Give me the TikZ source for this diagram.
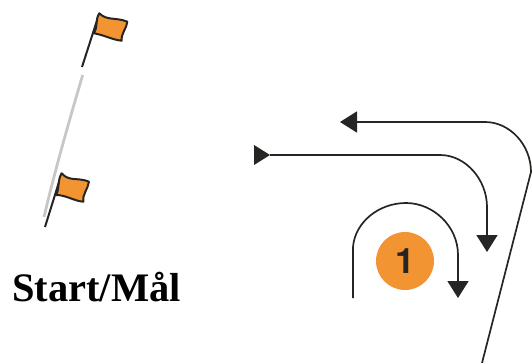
\documentclass[tikz,border=0pt]{standalone}
\usepackage{fontspec}
\setmainfont{Liberation Serif}
\newfontfamily\digitfont{TeX Gyre Heros}
\usetikzlibrary{arrows.meta}
\definecolor{flagorange}{HTML}{F39432}
\definecolor{inkdark}{HTML}{262523}
\tikzset{
	route/.style={draw=inkdark,line width=1.7pt},
	pole/.style={draw=inkdark,line width=2pt},
	startline/.style={draw=black!22,line width=2.8pt},
	flagcloth/.style={fill=flagorange,draw=inkdark,line width=2pt,line join=round},
	routehead/.style={-{Triangle[length=17pt,width=21pt,inkdark]}},
}
\begin{document}
\begin{tikzpicture}[x=1pt,y=-1pt]
	\useasboundingbox (0,0) rectangle (532,363);

	% start line, between the two flags
	\coordinate (s0) at (82.7,75);
	\coordinate (s1) at (44,217);
	\draw[startline] (s0) .. controls (70,118) and (55,170) .. (s1);

	% upper flag
	\coordinate (p0) at (82,67);
	\coordinate (f0) at (99.3,13.3);
	\coordinate (f1) at (127.3,21.7);
	\coordinate (f2) at (121.7,40.7);
	\coordinate (f3) at (94,33.3);
	\draw[pole] (p0) -- (f0);
	\filldraw[flagcloth] (f0) .. controls (107,21) and (116,17) .. (f1)
		.. controls (127,28) and (121,33) .. (f2)
		.. controls (113,40) and (104,35) .. (f3)
		.. controls (98,27) and (95,20) .. (f0) -- cycle;

	% lower flag
	\coordinate (p1) at (45,227);
	\coordinate (g0) at (61.7,173.3);
	\coordinate (g1) at (89,181.7);
	\coordinate (g2) at (83.3,201.7);
	\coordinate (g3) at (56,195);
	\draw[pole] (p1) -- (g0);
	\filldraw[flagcloth] (g0) .. controls (69,182) and (78,177) .. (g1)
		.. controls (88,189) and (82,195) .. (g2)
		.. controls (74,201) and (66,195) .. (g3)
		.. controls (60,188) and (57,181) .. (g0) -- cycle;

	\node[anchor=base west,inner sep=0pt,font=\bfseries\fontsize{40.5}{40.5}\selectfont] (startmaal) at (12,301) {Start/Mål};

	% routes
	\coordinate (a0) at (482,363);
	\coordinate (a1) at (531,172);
	\coordinate (a2) at (485,122);
	\coordinate (a3) at (340,122);
	\draw[route,routehead] (a0) -- (a1) .. controls (531,145) and (510,122) .. (a2) -- (a3);

	\coordinate (b0) at (270,155);
	\coordinate (b1) at (440,155);
	\coordinate (b2) at (487,207);
	\coordinate (b3) at (487,252);
	\draw[route,routehead] (b0) -- (b1) .. controls (466,155) and (487,180) .. (b2) -- (b3);
	\path[fill=inkdark] (254,145) -- (b0) -- (254,165) -- cycle;

	\coordinate (c0) at (353,298);
	\coordinate (c1) at (353,247);
	\coordinate (c2) at (406,203);
	\coordinate (c3) at (458,255);
	\coordinate (c4) at (458,298);
	\draw[route,routehead] (c0) -- (c1) .. controls (355,222) and (379,203) .. (c2)
		.. controls (433,203) and (458,226) .. (c3) -- (c4);

	\node[circle,fill=flagorange,minimum size=58pt,inner sep=0pt,text=inkdark,font=\digitfont\bfseries\fontsize{35}{35}\selectfont] (one) at (405,261) {1};
\end{tikzpicture}
\end{document}
